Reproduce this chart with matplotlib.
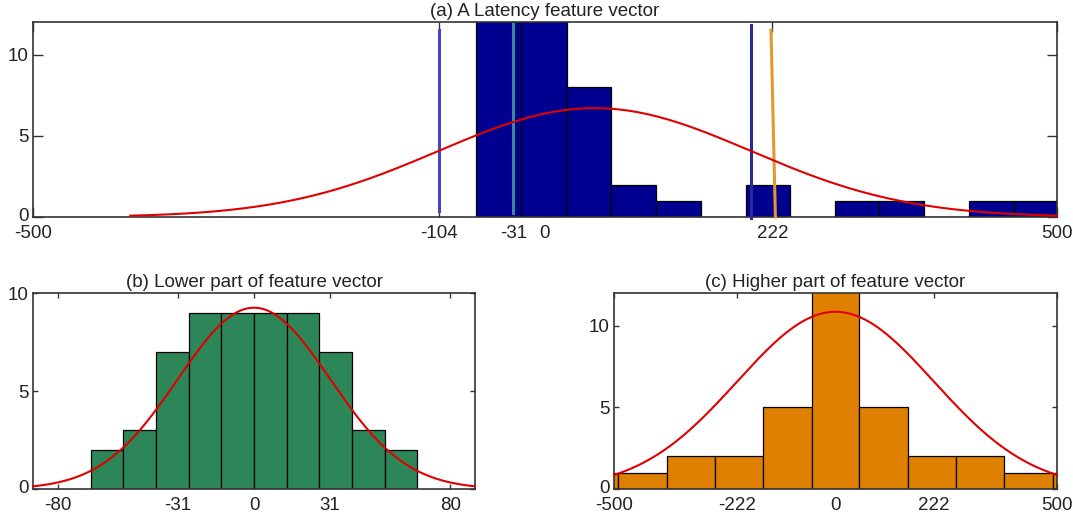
import numpy as np
import matplotlib.pyplot as plt
from matplotlib.transforms import ScaledTranslation

plt.rcParams['font.family'] = ['Liberation Sans', 'DejaVu Sans']
plt.rcParams['axes.unicode_minus'] = False

# (a) latency feature vector histogram
a_edges = [-67, -23, 21, 64, 108, 152, 196, 239, 283, 326, 370, 414, 458, 500]
a_counts = [14, 13, 8, 2, 1, 0, 2, 0, 1, 1, 0, 1, 1]
a_fit = {'mean': 48.5, 'std': 152.5, 'peak': 6.7, 'start': -405, 'end': 500}
a_xticks = [-500, -104, -31, 0, 222, 500]
a_yticks = [0, 5, 10]
# marker lines: (x bottom, x top, y bottom, y top)
a_lower_std = (-104, -104, 0.4, 11.5)
a_lower_mark = (-31, -31, 0.25, 11.85)
a_upper_std = (201, 201, -0.05, 11.8)
a_upper_mark = (225, 220.7, 0.0, 11.5)

# (b) lower part of feature vector
b_edges = [-66.5, -53.2, -39.9, -26.6, -13.3, 0, 13.3, 26.6, 39.9, 53.2, 66.5]
b_counts = [2, 3, 7, 9, 9, 9, 9, 7, 3, 2]
b_fit = {'mean': 0, 'std': 31, 'peak': 9.25, 'start': -90, 'end': 90}
b_xticks = [-80, -31, 0, 31, 80]
b_yticks = [0, 5, 10]

# (c) higher part of feature vector
c_edges = [-599, -490, -381, -272, -163, -54, 54, 163, 272, 381, 490, 599]
c_counts = [1, 1, 2, 2, 5, 14, 5, 2, 2, 1, 1]
c_fit = {'mean': 0, 'std': 222, 'peak': 10.85, 'start': -500, 'end': 500}
c_xticks = [-500, -222, 0, 222, 500]
c_yticks = [0, 5, 10]

W, H = 1073, 524
fig = plt.figure(figsize=(W / 100, H / 100), dpi=100)


def px_axes(left, top, right, bottom):
    return fig.add_axes([left / W, (H - bottom) / H, (right - left) / W, (bottom - top) / H])


def style(ax, xlim, ylim, xticks, yticks, title, ticklen):
    ax.set_xlim(*xlim)
    ax.set_ylim(*ylim)
    ax.set_xticks(xticks)
    ax.set_yticks(yticks)
    ax.tick_params(direction='in', top=True, right=True, length=ticklen, width=1,
                   color='#333333', labelsize=13.5, labelcolor='#222222')
    ax.tick_params(axis='x', pad=6)
    ax.tick_params(axis='y', pad=3)
    # lift the "0" label a little so it sits above the first x label
    lab = ax.get_yticklabels()[0]
    lab.set_transform(lab.get_transform() + ScaledTranslation(0, 2 / 72, fig.dpi_scale_trans))
    for s in ax.spines.values():
        s.set_color('#333333')
        s.set_linewidth(1.2)
    ax.set_title(title, fontsize=13.5, color='#222222', pad=4)


def draw_hist(ax, edges, counts, color):
    edges = np.array(edges, dtype=float)
    ax.bar(edges[:-1], counts, width=np.diff(edges), align='edge', color=color,
           edgecolor='black', linewidth=0.9, zorder=2)


def draw_fit(ax, fit):
    x = np.linspace(fit['start'], fit['end'], 400)
    y = fit['peak'] * np.exp(-0.5 * ((x - fit['mean']) / fit['std']) ** 2)
    ax.plot(x, y, color='#e00000', linewidth=1.5, zorder=4, clip_on=False)


ax = px_axes(33, 22, 1057, 217)
draw_hist(ax, a_edges, a_counts, '#000090')
draw_fit(ax, a_fit)
for (x0, x1, y0, y1), col in [(a_lower_std, '#4545c5'), (a_lower_mark, '#3a8a92'),
                               (a_upper_std, '#2a2aa0'), (a_upper_mark, '#e8952e')]:
    ax.plot([x0, x1], [y0, y1], color=col, linewidth=2.2, zorder=3, clip_on=False)
style(ax, (-500, 500), (0, 12), a_xticks, a_yticks, '(a) A Latency feature vector', 7.5)

ax = px_axes(33, 293, 475, 489)
draw_hist(ax, b_edges, b_counts, '#2d8658')
draw_fit(ax, b_fit)
style(ax, (-90, 90), (0, 10), b_xticks, b_yticks, '(b) Lower part of feature vector', 3.5)

ax = px_axes(614, 293, 1057, 489)
draw_hist(ax, c_edges, c_counts, '#e08000')
draw_fit(ax, c_fit)
style(ax, (-500, 500), (0, 12), c_xticks, c_yticks, '(c) Higher part of feature vector', 3.5)

fig.savefig('out.png', dpi=100)
